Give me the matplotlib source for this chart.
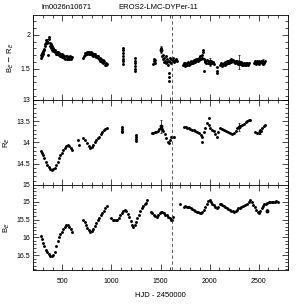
import matplotlib
matplotlib.use('Agg')
import matplotlib.pyplot as plt
from matplotlib.ticker import MultipleLocator, FormatStrFormatter

plt.rcParams['font.family'] = ['Liberation Sans', 'DejaVu Sans']

STAR_ID = 'lm0026n10671'
STAR_NAME = 'EROS2-LMC-DYPer-11'
X_LABEL = 'HJD - 2450000'
EVENT_HJD = 1622

# B_E - R_E colour
col_t = [282, 284, 290, 292, 298, 300, 305, 308, 312, 318, 322, 330, 336, 350, 362, 366, 372, 376,
         382, 386, 392, 396, 402, 408, 414, 420, 426, 432, 440, 446, 452, 460, 466, 474, 480,
         488, 494, 500, 508, 514, 520, 528, 535, 542, 550, 558, 565, 572, 580, 588, 595,
         713, 718, 725, 732, 740, 746, 754, 760, 768, 775, 782, 790, 798, 805, 812, 820, 828,
         835, 842, 850, 858, 865, 872, 880, 888, 895, 902, 910, 918, 925, 932, 940, 946, 952,
         1120, 1120, 1120, 1120, 1120, 1120, 1120,
         1240, 1240, 1240, 1240, 1240, 1240,
         1425, 1430, 1435, 1440, 1445, 1500, 1505, 1516, 1522, 1528, 1534, 1540, 1546, 1552,
         1558, 1564, 1570, 1576, 1582, 1585, 1587, 1589, 1594, 1600, 1606, 1612, 1618, 1626,
         1632, 1638, 1645, 1652, 1660, 1668,
         1730, 1738, 1745, 1752, 1760, 1768, 1775, 1782, 1790, 1798, 1805, 1812, 1820, 1828,
         1835, 1842, 1850, 1858, 1865, 1872, 1880, 1888, 1895, 1902, 1910, 1918, 1925, 1932,
         1938, 1945, 1950, 1940, 1958, 1965, 1975, 1985, 1995, 2005, 2015, 2025, 2035, 2045,
         2075, 2077, 2079, 2110, 2118, 2125, 2132, 2140, 2148, 2155, 2162, 2170, 2178, 2185,
         2192, 2200, 2208, 2215, 2222, 2230, 2238, 2245, 2252, 2260, 2268, 2275, 2282, 2290,
         2300, 2310, 2318, 2326, 2334, 2342, 2350, 2360, 2368, 2376, 2385, 2395, 2404,
         2455, 2462, 2470, 2478, 2485, 2492, 2500, 2508, 2515, 2522, 2530, 2538, 2545, 2552,
         2560, 2568]
col_v = [1.66, 1.70, 1.69, 1.73, 1.72, 1.76, 1.75, 1.79, 1.78, 1.83, 1.86, 1.88, 1.92, 1.70, 1.93, 1.96, 1.88, 1.84,
         1.86, 1.81, 1.83, 1.78, 1.80, 1.76, 1.78, 1.74, 1.77, 1.72, 1.75, 1.71, 1.74, 1.70, 1.73, 1.69, 1.72,
         1.68, 1.71, 1.67, 1.70, 1.66, 1.69, 1.65, 1.68, 1.65, 1.68, 1.64, 1.67, 1.65, 1.68, 1.64, 1.67,
         1.66, 1.69, 1.70, 1.73, 1.72, 1.75, 1.72, 1.75, 1.72, 1.74, 1.71, 1.74, 1.70, 1.73, 1.69, 1.72, 1.68,
         1.71, 1.67, 1.69, 1.66, 1.68, 1.64, 1.66, 1.62, 1.65, 1.60, 1.63, 1.58, 1.61, 1.56, 1.59, 1.55, 1.57,
         1.81, 1.77, 1.73, 1.69, 1.65, 1.61, 1.57,
         1.66, 1.62, 1.58, 1.54, 1.50, 1.46,
         1.57, 1.61, 1.65, 1.59, 1.63, 1.80, 1.76, 1.68, 1.64, 1.70, 1.60, 1.66, 1.62, 1.68,
         1.58, 1.64, 1.60, 1.55, 1.62, 1.44, 1.38, 1.32, 1.66, 1.60, 1.64, 1.58, 1.65, 1.61,
         1.66, 1.60, 1.63, 1.61, 1.64, 1.62,
         1.56, 1.59, 1.54, 1.58, 1.55, 1.59, 1.56, 1.60, 1.55, 1.59, 1.57, 1.61, 1.58, 1.62,
         1.59, 1.63, 1.60, 1.64, 1.61, 1.65, 1.62, 1.66, 1.63, 1.68, 1.64, 1.70, 1.66, 1.74,
         1.78, 1.64, 1.60, 1.46, 1.62, 1.58, 1.63, 1.59, 1.61, 1.57, 1.62, 1.58, 1.60, 1.57,
         1.52, 1.47, 1.43, 1.55, 1.58, 1.54, 1.57, 1.55, 1.59, 1.56, 1.60, 1.57, 1.61, 1.58,
         1.62, 1.59, 1.63, 1.60, 1.64, 1.61, 1.63, 1.60, 1.62, 1.59, 1.61, 1.58, 1.61, 1.57,
         1.60, 1.57, 1.60, 1.56, 1.59, 1.56, 1.58, 1.55, 1.58, 1.56, 1.58, 1.55, 1.59,
         1.58, 1.61, 1.57, 1.60, 1.62, 1.58, 1.61, 1.57, 1.60, 1.62, 1.58, 1.61, 1.57, 1.60,
         1.58, 1.61]

# R_E magnitude
r_t = [280, 290, 300, 315, 330, 345, 360, 375, 390, 405, 420, 435, 450, 465, 480,
       495, 510, 525, 540, 555, 570, 585, 598,
       662, 665, 713, 730, 750, 770, 786, 800, 815, 830, 845, 860, 875, 890, 905, 920, 935, 950,
       1108, 1108, 1108, 1108, 1245, 1245, 1245, 1245,
       1410, 1425, 1440, 1455, 1470, 1485, 1500, 1515, 1530, 1545, 1560, 1575, 1590,
       1600, 1610, 1620, 1635,
       1738, 1755, 1770, 1789, 1805, 1820, 1840, 1855, 1870, 1891, 1910, 1924, 1924,
       1940, 1958, 1975, 1999, 1990, 2005, 2025, 2044, 2060, 2078, 2090, 2111, 2130,
       2150, 2170, 2190, 2213, 2230, 2248, 2265, 2282, 2299, 2315, 2333, 2350, 2370,
       2384, 2400, 2417, 2468, 2485, 2503, 2520, 2537, 2555, 2570]
r_v = [14.20, 14.25, 14.30, 14.36, 14.45, 14.52, 14.58, 14.62, 14.64, 14.63, 14.60, 14.53, 14.45, 14.36, 14.30,
       14.24, 14.17, 14.12, 14.08, 14.06, 14.08, 14.13, 14.18,
       13.94, 14.05, 13.90, 13.95, 14.02, 14.08, 14.13, 14.10, 14.05, 14.00, 13.95, 13.90, 13.86, 13.80,
       13.75, 13.71, 13.68, 13.65,
       13.63, 13.68, 13.72, 13.76, 13.82, 13.87, 13.92, 13.97,
       13.78, 13.77, 13.76, 13.75, 13.72, 13.68, 13.66, 13.68, 13.72, 13.80, 13.90, 13.98, 14.02,
       13.95, 13.88, 13.86, 13.88,
       13.63, 13.64, 13.65, 13.67, 13.69, 13.70, 13.71, 13.74, 13.76, 13.78, 13.82, 13.86, 13.98,
       13.75, 13.67, 13.55, 13.43, 13.60, 13.66, 13.70, 13.72, 13.80, 13.86, 13.75, 13.67, 13.68,
       13.70, 13.72, 13.75, 13.78, 13.79, 13.78, 13.72, 13.66, 13.63, 13.61, 13.59, 13.56, 13.52,
       13.50, 13.47, 13.48, 13.75, 13.77, 13.78, 13.73, 13.67, 13.62, 13.59]

# B_E magnitude
b_t = [280, 290, 300, 315, 330, 345, 360, 375, 390, 405, 420, 435, 450, 465, 480,
       495, 510, 525, 540, 555, 570, 585, 598,
       710, 725, 740, 755, 770, 785, 800, 815, 830, 845, 860, 875, 890, 905, 920, 935, 950,
       1000, 1015, 1030, 1045, 1060, 1075, 1090, 1105, 1120, 1135, 1150, 1165, 1180, 1195,
       1210, 1222, 1235, 1250, 1265, 1280, 1295, 1310, 1325, 1340, 1355, 1365,
       1400, 1415, 1430, 1445, 1460, 1475, 1490, 1505, 1520, 1535, 1550, 1565, 1580,
       1595, 1610, 1620, 1630,
       1703, 1735, 1750, 1765, 1780, 1795, 1810, 1825, 1840, 1855, 1870, 1885, 1900,
       1915, 1925, 1940, 1955, 1970, 1985, 2000, 2015, 2030, 2045, 2060, 2075, 2090,
       2105, 2115, 2130, 2145, 2160, 2175, 2190, 2205, 2220, 2235, 2250, 2265, 2280,
       2295, 2310, 2325, 2340, 2360, 2380, 2400, 2415, 2430, 2445, 2460, 2475, 2490,
       2502, 2515, 2530, 2545, 2560, 2575, 2590, 2605, 2620, 2635, 2650, 2665, 2680, 2695]
b_v = [15.95, 16.05, 16.15, 16.25, 16.35, 16.42, 16.48, 16.52, 16.53, 16.50, 16.40, 16.25, 16.10, 16.00, 15.92,
       15.85, 15.77, 15.70, 15.66, 15.65, 15.70, 15.78, 15.84,
       15.52, 15.58, 15.66, 15.74, 15.80, 15.85, 15.82, 15.76, 15.68, 15.60, 15.52, 15.45, 15.38, 15.32,
       15.25, 15.18, 15.13,
       15.47, 15.50, 15.52, 15.52, 15.50, 15.45, 15.38, 15.32, 15.26, 15.23, 15.27, 15.35, 15.44, 15.55,
       15.65, 15.70, 15.65, 15.56, 15.47, 15.36, 15.26, 15.18, 15.12, 15.07, 15.03, 14.95,
       15.30, 15.33, 15.38, 15.40, 15.42, 15.38, 15.32, 15.28, 15.28, 15.32, 15.36, 15.38, 15.42,
       15.47, 15.52, 15.50, 15.42,
       15.05, 15.14, 15.13, 15.14, 15.14, 15.16, 15.18, 15.20, 15.22, 15.25, 15.28, 15.30, 15.32,
       15.33, 15.30, 15.22, 15.14, 15.05, 14.98, 14.96, 15.00, 15.05, 15.10, 15.15, 15.19, 15.14,
       15.07, 15.05, 15.08, 15.11, 15.14, 15.17, 15.20, 15.22, 15.25, 15.27, 15.28, 15.25, 15.22,
       15.19, 15.17, 15.15, 15.13, 15.09, 15.05, 15.00, 14.96, 15.00, 15.08, 15.16, 15.22, 15.28,
       15.33, 15.25, 15.17, 15.11, 15.07, 15.05, 15.04, 15.02, 15.01, 15.00, 15.00, 15.00, 14.99, 15.00]

# points with visible error bars: (panel, hjd, value, error)
err_panel = [0, 0, 0, 0, 0, 1, 1, 1, 2]
err_t = [340, 1505, 2000, 2300, 2540, 1510, 2300, 2510, 2590]
err_v = [1.90, 1.78, 1.60, 1.60, 1.60, 13.62, 13.63, 13.74, 15.25]
err_e = [0.04, 0.05, 0.06, 0.10, 0.05, 0.15, 0.10, 0.06, 0.05]

panels = [(col_t, col_v, 'B$_E$ $-$ R$_E$', (1.04, 2.29), 0.5, 0.1),
          (r_t, r_v, 'R$_E$', (15.0, 13.0), 0.5, 0.1),
          (b_t, b_v, 'B$_E$', (16.92, 14.53), 0.5, 0.1)]

fig = plt.figure(figsize=(3.04, 3.04), dpi=100)
tops = [0.9507, 0.6711, 0.3914]
axes = []
for i, (t, v, lab, ylim, major, minor) in enumerate(panels):
    ax = fig.add_axes([0.1086, tops[i] - 0.2796, 0.8388, 0.2796])
    ax.plot(t, v, 'o', color='black', markersize=2.1, markeredgewidth=0)
    sel = [k for k in range(len(err_t)) if err_panel[k] == i]
    if sel:
        ax.errorbar([err_t[k] for k in sel], [err_v[k] for k in sel],
                    yerr=[err_e[k] for k in sel], fmt='o', color='black',
                    markersize=1.8, elinewidth=0.5, capsize=1, capthick=0.5)
    ax.axvline(EVENT_HJD, color='#444444', linestyle=(0, (4, 3)), linewidth=0.6)
    ax.set_xlim(200, 2800)
    ax.set_ylim(*ylim)
    ax.xaxis.set_major_locator(MultipleLocator(500))
    ax.xaxis.set_minor_locator(MultipleLocator(100))
    ax.yaxis.set_major_locator(MultipleLocator(major))
    ax.yaxis.set_minor_locator(MultipleLocator(minor))
    ax.yaxis.set_major_formatter(FormatStrFormatter('%g'))
    ax.tick_params(which='both', direction='in', top=True, right=True,
                   labelsize=5, width=0.5, pad=2)
    ax.tick_params(which='major', length=4)
    ax.tick_params(which='minor', length=2)
    ax.tick_params(axis='x', pad=6)
    for s in ax.spines.values():
        s.set_linewidth(0.6)
    ax.set_ylabel(lab, fontsize=5.5, labelpad=3)
    if i < 2:
        ax.tick_params(labelbottom=False)
    axes.append(ax)

axes[2].set_xlabel(X_LABEL, fontsize=5.5, labelpad=5)
fig.text(0.22, 0.965, STAR_ID, fontsize=5.5, ha='center', va='bottom')
fig.text(0.52, 0.965, STAR_NAME, fontsize=5.5, ha='center', va='bottom')

fig.savefig('out.png', dpi=100)
